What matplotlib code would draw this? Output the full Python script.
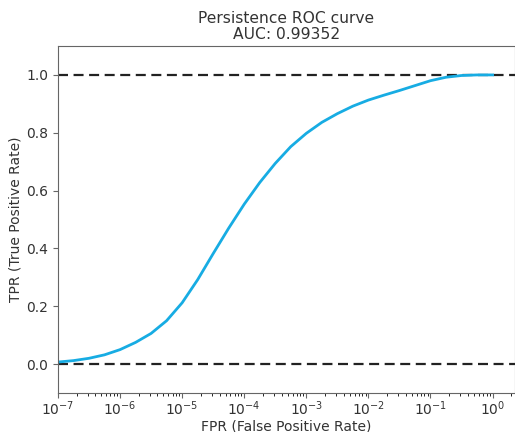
import matplotlib
matplotlib.use("Agg")
import matplotlib.pyplot as plt
from matplotlib.ticker import LogLocator, NullFormatter

fpr = [1.0e-7, 1.78e-7, 3.16e-7, 5.62e-7,
       1.0e-6, 1.78e-6, 3.16e-6, 5.62e-6,
       1.0e-5, 1.78e-5, 3.16e-5, 5.62e-5,
       1.0e-4, 1.78e-4, 3.16e-4, 5.62e-4,
       1.0e-3, 1.78e-3, 3.16e-3, 5.62e-3,
       1.0e-2, 1.78e-2, 3.16e-2, 5.62e-2,
       1.0e-1, 1.78e-1, 3.16e-1, 5.62e-1, 1.0]
tpr = [0.007, 0.012, 0.020, 0.032,
       0.050, 0.075, 0.106, 0.150,
       0.212, 0.292, 0.382, 0.470,
       0.553, 0.628, 0.694, 0.752,
       0.798, 0.836, 0.866, 0.892,
       0.913, 0.930, 0.946, 0.963,
       0.980, 0.992, 0.998, 1.0, 1.0]

x_major = [1e-7, 1e-6, 1e-5, 1e-4, 1e-3, 1e-2, 1e-1, 1e0]
y_major = [0.0, 0.2, 0.4, 0.6, 0.8, 1.0]

title_lines = ["Persistence ROC curve", "AUC: 0.99352"]
xlabel = "FPR (False Positive Rate)"
ylabel = "TPR (True Positive Rate)"
ref_levels = [0.0, 1.0]

text_c = "#333333"
spine_c = "#666666"

fig = plt.figure(figsize=(5.15, 4.32), dpi=100)
ax = fig.add_axes([0.1126, 0.0903, 0.8874, 0.8032])

for lv in ref_levels:
    ax.axhline(lv, color="#222222", lw=1.6, ls=(0, (4.5, 2.5)), zorder=1)
ax.plot(fpr, tpr, color="#17ace3", lw=2.0, zorder=2, solid_joinstyle="round")

ax.set_xscale("log")
ax.set_xlim(1e-7, 2.3)
ax.set_ylim(-0.1, 1.1)
ax.set_xticks(x_major)
ax.xaxis.set_minor_locator(LogLocator(base=10, subs=range(2, 10), numticks=20))
ax.xaxis.set_minor_formatter(NullFormatter())
ax.set_yticks(y_major)
ax.set_title("\n".join(title_lines), fontsize=11.2, color=text_c,
             linespacing=1.05, pad=5)
ax.set_xlabel(xlabel, fontsize=10, color=text_c, labelpad=1)
ax.set_ylabel(ylabel, fontsize=10, color=text_c, labelpad=3)
ax.tick_params(colors=spine_c, labelcolor=text_c, labelsize=10)
ax.tick_params(axis="x", pad=1.0)
for s in ax.spines.values():
    s.set_color(spine_c)

fig.savefig("out.png", dpi=100)
